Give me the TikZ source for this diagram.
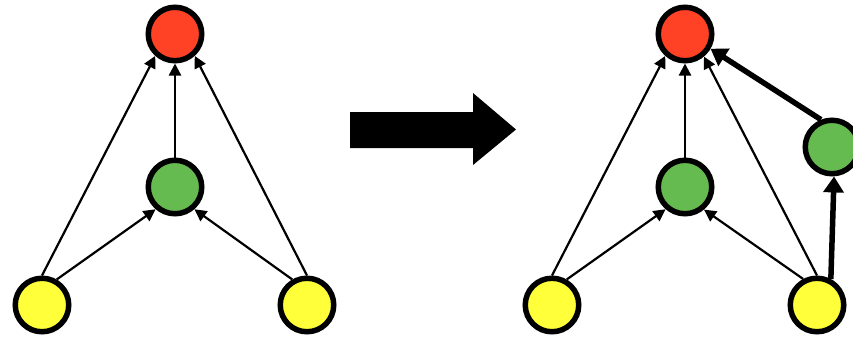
\documentclass[tikz,border=0pt]{standalone}
\usetikzlibrary{arrows.meta}
\definecolor{cred}{HTML}{FF4126}
\definecolor{cgreen}{HTML}{66BB50}
\definecolor{cyellow}{HTML}{FFFF3A}
\tikzset{
  vtx/.style={circle, draw=black, line width=5.5pt, minimum size=53.5pt, inner sep=0pt},
  thin edge/.style={-{Triangle[length=12pt,width=12pt]}, line width=2.2pt},
  thick edge/.style={-{Triangle[length=16pt,width=20pt]}, line width=5.5pt},
}
\begin{document}
\begin{tikzpicture}[x=1pt,y=-1pt]
\useasboundingbox (0,0) rectangle (853,337);
\clip (0,0) rectangle (853,337);
% left graph
\node[vtx, fill=cred] (r1) at (175,34) {};
\node[vtx, fill=cgreen] (g1) at (175,187) {};
\node[vtx, fill=cyellow] (ya) at (42,305) {};
\node[vtx, fill=cyellow] (yb) at (307,305) {};
\draw[thin edge] (g1.90) -- (r1.270);
\draw[thin edge] (ya.90) -- (r1.228);
\draw[thin edge] (yb.90) -- (r1.312);
\draw[thin edge] (ya.60) -- (g1.229);
\draw[thin edge] (yb.120) -- (g1.311);
% big arrow
\fill[black] (350,112) -- (473,112) -- (473,93) -- (516,129.5) -- (473,165) -- (473,148) -- (350,148) -- cycle;
% right graph
\node[vtx, fill=cred] (r2) at (685,34) {};
\node[vtx, fill=cgreen] (g2) at (685,187) {};
\node[vtx, fill=cgreen] (g3) at (832,147) {};
\node[vtx, fill=cyellow] (yc) at (552,305) {};
\node[vtx, fill=cyellow] (yd) at (817,305) {};
\draw[thin edge] (g2.90) -- (r2.270);
\draw[thin edge] (yc.90) -- (r2.228);
\draw[thin edge] (yd.90) -- (r2.310);
\draw[thin edge] (yc.60) -- (g2.229);
\draw[thin edge] (yd.118) -- (g2.310);
\draw[thick edge] (yd.62) -- (g3.274);
\draw[thick edge] (g3.112) -- (r2.330);
\end{tikzpicture}
\end{document}
